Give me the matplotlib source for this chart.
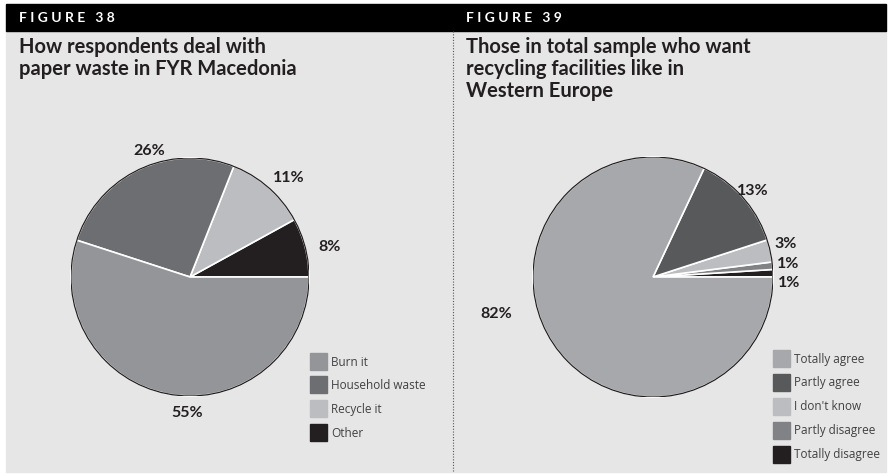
import numpy as np
import matplotlib
matplotlib.use("Agg")
import matplotlib.pyplot as plt
from matplotlib.patches import Rectangle, Circle

# Figure 38: paper waste handling
waste_labels = ["Burn it", "Household waste", "Recycle it", "Other"]
waste_values = [55, 26, 11, 8]
waste_colors = ["#949599", "#6d6e71", "#bcbdc0", "#231f20"]

# Figure 39: wish for recycling facilities
recyc_labels = ["Totally agree", "Partly agree", "I don't know",
                "Partly disagree", "Totally disagree"]
recyc_values = [82, 13, 3, 1, 1]
recyc_colors = ["#a7a8ab", "#58595b", "#bcbdc0", "#808285", "#231f20"]

W, H = 892, 477
BG = "#e6e6e6"
TXT = "#231f20"

fig = plt.figure(figsize=(W / 100, H / 100), dpi=100)
fig.patch.set_facecolor("white")


def px_rect(x0, y0, x1, y1):
    # pixel box (top-left origin) -> figure fraction [l, b, w, h]
    return [x0 / W, 1 - y1 / H, (x1 - x0) / W, (y1 - y0) / H]


def fx(x):
    return x / W


def fy(y):
    return 1 - y / H


# panel backgrounds and header bar
fig.patches.append(Rectangle((fx(6), fy(473)), fx(886) - fx(6), fy(32) - fy(473),
                             transform=fig.transFigure, color=BG, zorder=-2))
fig.patches.append(Rectangle((fx(6), fy(32)), fx(886) - fx(6), fy(5) - fy(32),
                             transform=fig.transFigure, color="black", zorder=-2))
fig.lines.append(plt.Line2D([fx(453), fx(453)], [fy(32), fy(473)],
                            transform=fig.transFigure, color="#555555",
                            lw=0.8, ls=(0, (1, 1.5)), zorder=-1))

fig.text(fx(19), fy(18), "F I G U R E   3 8", color="white",
         fontsize=10, fontweight="bold", family="Lato", va="center")
fig.text(fx(466), fy(18), "F I G U R E   3 9", color="white",
         fontsize=10, fontweight="bold", family="Lato", va="center")

fig.text(fx(19), fy(37), "How respondents deal with\npaper waste in FYR Macedonia",
         color=TXT, fontsize=14.5, fontweight="bold", family="Lato",
         va="top", linespacing=1.12)
fig.text(fx(466), fy(37), "Those in total sample who want\nrecycling facilities like in\nWestern Europe",
         color=TXT, fontsize=14.5, fontweight="bold", family="Lato",
         va="top", linespacing=1.12)


def draw_pie(cx, cy, r, values, colors):
    ax = fig.add_axes(px_rect(cx - r, cy - r, cx + r, cy + r))
    # slices run counter-clockwise from 3 o'clock, smallest first
    wedges, _ = ax.pie(values[::-1], colors=colors[::-1], startangle=0,
                       counterclock=True, radius=1,
                       wedgeprops=dict(edgecolor="white", linewidth=1.2))
    ax.add_patch(Circle((0, 0), 1, fill=False, edgecolor=TXT, lw=0.9, zorder=5))
    ax.set_xlim(-1, 1)
    ax.set_ylim(-1, 1)
    ax.set_aspect("equal")
    ax.axis("off")
    return ax, wedges[::-1]


def label_wedges(ax, wedges, values, dists, shifts, aligns):
    # percentage labels anchored on each slice's mid angle, nudged in pixels
    for w, v, d, (dx, dy), ha in zip(wedges, values, dists, shifts, aligns):
        a = np.deg2rad((w.theta1 + w.theta2) / 2)
        ax.annotate(f"{v}%", (d * np.cos(a), d * np.sin(a)),
                    xytext=(dx, dy), textcoords="offset pixels",
                    ha=ha, va="center", fontsize=11.5, fontweight="bold",
                    family="Lato", color=TXT, annotation_clip=False)


ax1, w1 = draw_pie(190, 278, 119, waste_values, waste_colors)
label_wedges(ax1, w1, waste_values,
             dists=[1.13, 1.15, 1.19, 1.22],
             shifts=[(18, -2), (18, 3), (5, -6), (-1, -5)],
             aligns=["center"] * 4)

ax2, w2 = draw_pie(653, 278, 120, recyc_values, recyc_colors)
label_wedges(ax2, w2, recyc_values,
             dists=[1.12, 1.12, 1.04, 1.04, 1.04],
             shifts=[(-43, 36), (-17, -2), (0, 7), (0, 2), (0, -9)],
             aligns=["center", "left", "left", "left", "left"])


def draw_legend(x, y0, step, labels, colors):
    for i, (lab, c) in enumerate(zip(labels, colors)):
        y = y0 + i * step
        fig.patches.append(Rectangle((fx(x), fy(y + 8.5)), 17 / W, 17 / H,
                                     transform=fig.transFigure, color=c))
        fig.text(fx(x + 21), fy(y), lab, color="#414042", fontsize=8.5,
                 family="Open Sans", va="center")


draw_legend(310, 362, 23.7, waste_labels, waste_colors)
draw_legend(773, 359, 24, recyc_labels, recyc_colors)

fig.savefig("out.png", dpi=100, facecolor=fig.get_facecolor())
